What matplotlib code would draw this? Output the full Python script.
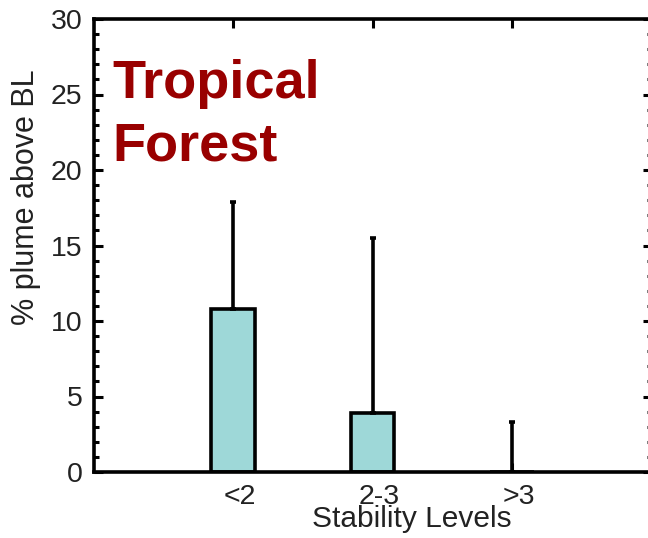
import numpy as np
import matplotlib.pyplot as plt
from matplotlib.ticker import MultipleLocator
import matplotlib.transforms as mtransforms

plt.rcParams['font.family'] = ['Liberation Sans', 'DejaVu Sans']

# percent of plume above the boundary layer, per stability class
categories = ['<2', '2-3', '>3']
plume_pct = [10.8, 3.9, 0.0]
upper_err = [7.1, 11.6, 3.3]

fig = plt.figure(figsize=(6.48, 5.38), dpi=100)
ax = fig.add_axes([93.5 / 648, 66 / 538, 558 / 648, 453 / 538])

x = np.arange(1, len(categories) + 1)
ax.bar(x, plume_pct, width=0.31, color='#9ed8d8', edgecolor='black',
       linewidth=2.6, zorder=2)
ax.errorbar(x, plume_pct, yerr=[np.zeros(len(x)), upper_err], fmt='none',
            ecolor='black', elinewidth=2.6, capsize=2, capthick=2.6, zorder=3)

ax.set_xlim(0, 4)
ax.set_ylim(0, 30)
ax.set_xticks(x)
ax.set_xticklabels(categories)
ax.yaxis.set_major_locator(MultipleLocator(5))
ax.yaxis.set_minor_locator(MultipleLocator(1))

ax.tick_params(axis='both', which='both', direction='in', colors='black',
               labelcolor='#222222', labelsize=20.5, width=2.2)
ax.tick_params(axis='y', which='major', length=6.5, right=True, pad=8)
ax.tick_params(axis='y', which='minor', length=3.5, right=True)
ax.tick_params(axis='x', which='major', length=6.5, top=True, pad=9)

# nudge category labels a little to the right
shift = mtransforms.ScaledTranslation(7 / 100, 0, fig.dpi_scale_trans)
for lbl in ax.get_xticklabels():
    lbl.set_transform(lbl.get_transform() + shift)

for sp in ax.spines.values():
    sp.set_linewidth(2.6)

ax.set_ylabel('% plume above BL', fontsize=22, color='#222222')
ax.yaxis.set_label_coords(-0.094, 0.607)
ax.set_xlabel('Stability Levels', fontsize=21.5, color='#222222')
ax.xaxis.set_label_coords((412 - 93.5) / 558, -0.072)

ax.text(112 / 648, 1 - 160 / 538, 'Tropical\nForest', transform=fig.transFigure,
        fontsize=39, fontweight='bold', color='#990000', va='baseline',
        ha='left', linespacing=1.3)

fig.savefig('out.png', dpi=100)
